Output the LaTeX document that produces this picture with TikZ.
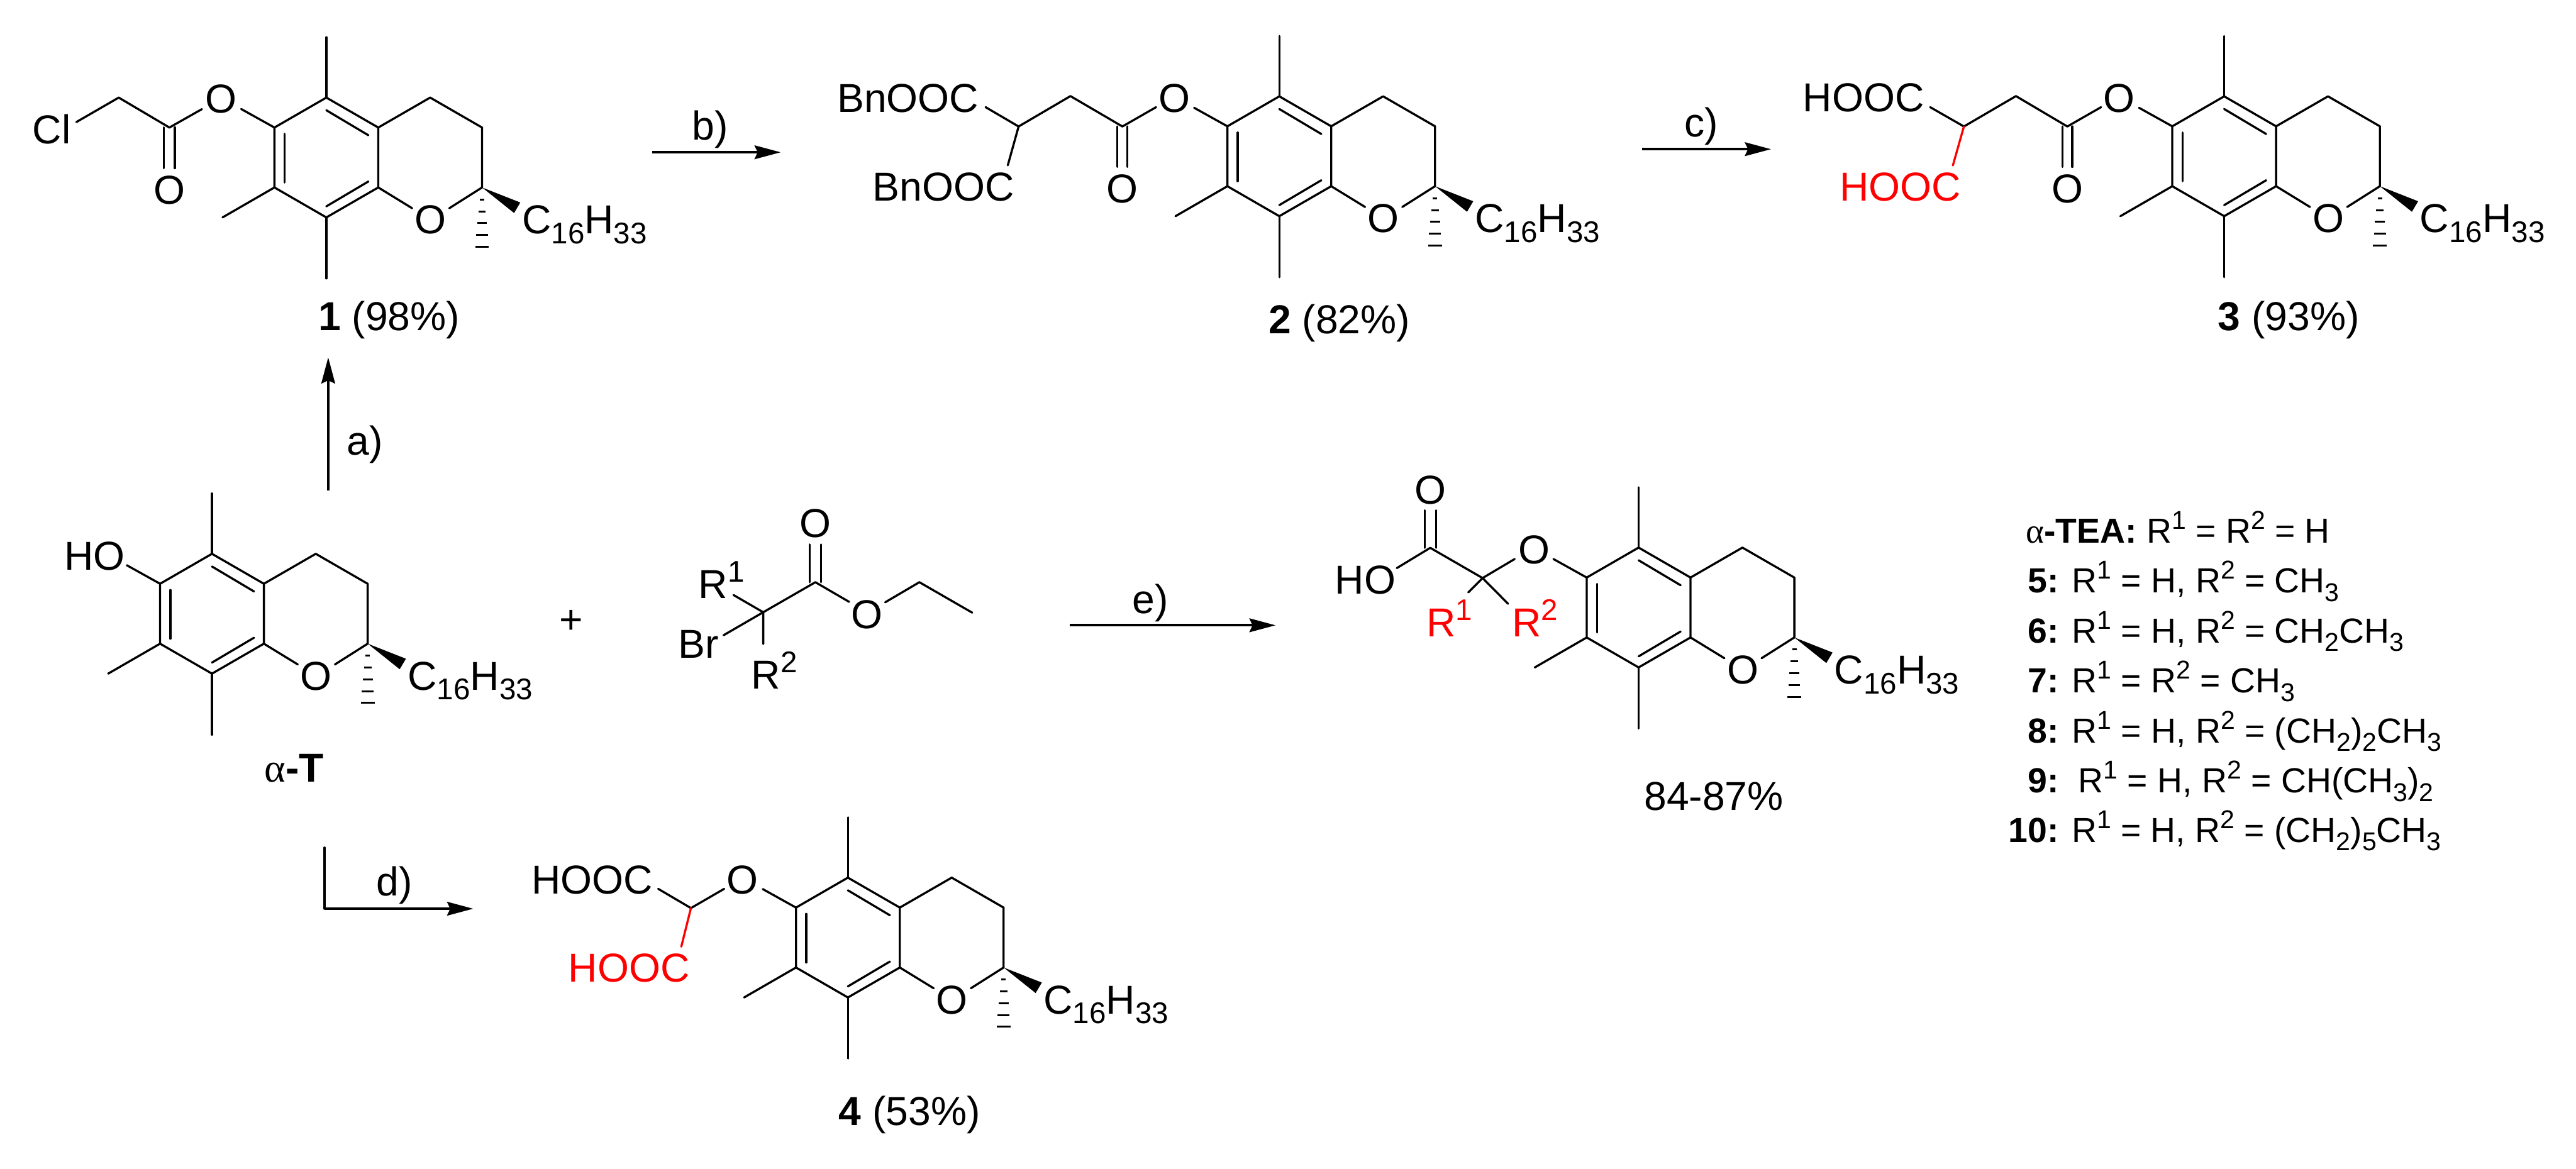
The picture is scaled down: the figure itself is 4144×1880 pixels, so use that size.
\documentclass[tikz,border=0pt]{standalone}
\usepackage{graphicx}
\usepackage{fontspec}
\setmainfont{Liberation Sans}
\newfontfamily\gkfont{Liberation Serif}
\usetikzlibrary{arrows.meta}
\newcommand\mysub[1]{\raisebox{-.245em}{\scalebox{.74}{#1}}}
\newcommand\mysup[1]{\raisebox{.4em}{\scalebox{.74}{#1}}}
\newcommand\lbl[4]{\node[txt] (#1) at (#2,#3) {#4};}
\newcommand\lbc[4]{\node[txtc] (#1) at (#2,#3) {#4};}
\newcommand\leg[4]{\node[legtxt] (#1) at (#2,#3) {#4};}
\newcommand\chrom[3]{%
\begin{scope}[shift={(#2,#3)}]
\coordinate (#1a) at (0,0);
\coordinate (#1b) at (83.5,48.2);
\coordinate (#1c) at (83.5,144.6);
\coordinate (#1d) at (0,192.8);
\coordinate (#1e) at (-83.5,144.6);
\coordinate (#1f) at (-83.5,48.2);
\coordinate (#1g) at (167,0);
\coordinate (#1h) at (250.5,48.2);
\coordinate (#1i) at (250.5,144.6);
\draw[bond] (#1a)--(#1b)--(#1c)--(#1d)--(#1e)--(#1f)--cycle;
\draw[bond] (#1b)--(#1g)--(#1h)--(#1i);
\draw[bond] (#1a)--(0,-97);
\draw[bond] (#1d)--(0,291);
\draw[bond] (#1e)--(-167,192.8);
\draw[bond] (0,20.4)--(67.6,60.6);
\draw[bond] (67.6,135)--(0,175);
\draw[bond] (-67,58.3)--(-67,136.5);
\draw[bond] (#1c)--(138,178);
\draw[bond] (197.8,178)--(#1i);
\draw[bond] (#1f)--(-137,18.4);
\lbc{#1O}{167.7}{219}{O}
\fill (#1i)--(312,168.8)--(302,185.7)--cycle;
\draw[hash] (247,164)--(254,164);
\draw[hash] (244.5,183)--(256.5,183);
\draw[hash] (242.5,202)--(258.5,202);
\draw[hash] (241,221)--(260,221);
\draw[hash] (239.5,240)--(261.5,240);
\lbl{#1R}{315}{219}{C\mysub{16}H\mysub{33}}
\end{scope}}
\tikzset{
  bond/.style={line width=1.7pt,line cap=round,line join=round},
  redbond/.style={bond,draw=red},
  hash/.style={line width=1.5pt},
  rarrow/.style={line width=2pt,-{Stealth[length=21pt,width=11pt,inset=2.5pt]}},
  txt/.style={inner sep=0,outer sep=0,anchor=base west,font=\fontsize{32.5}{36}\selectfont},
  txtc/.style={inner sep=0,outer sep=0,anchor=base,font=\fontsize{32.5}{36}\selectfont},
  legtxt/.style={inner sep=0,outer sep=0,anchor=base west,font=\fontsize{28}{32}\selectfont},
}
\begin{document}
\begin{tikzpicture}[x=0.5pt,y=-0.5pt]
\useasboundingbox (0,0) rectangle (4144,1880);
% compound 1
\chrom{p}{525}{157}
\lbc{pOe}{355.7}{182}{O}
\lbc{pOc}{272.3}{328.4}{O}
\lbl{pCl}{52.6}{231.3}{Cl}
\draw[bond] (122.8,196.4)--(191,157)--(272.5,205.2)--(324.8,175.6);
\draw[bond] (263.8,205)--(263.8,270.6);
\draw[bond] (281.3,205)--(281.3,270.6);
\lbl{pL}{512}{532}{\textbf{1} (98\%)}
% compound 2
\chrom{q}{2058}{155}
\lbc{qOe}{1889}{181}{O}
\lbc{qOc}{1805.6}{326}{O}
\lbl{qA}{1347}{181}{BnOOC}
\lbl{qB}{1404}{323}{BnOOC}
\draw[bond] (1585.5,172.4)--(1638.6,203.5)--(1722,154.6)--(1805.6,203.5)--(1859.8,172.4);
\draw[bond] (1638.6,203.5)--(1621.2,266);
\draw[bond] (1797.6,203.5)--(1797.6,268.5);
\draw[bond] (1813.6,203.5)--(1813.6,268.5);
\lbl{qL}{2040.8}{537}{\textbf{2} (82\%)}
% compound 3
\chrom{r}{3578}{155}
\lbc{rOe}{3409.4}{181}{O}
\lbc{rOc}{3325.7}{326}{O}
\lbl{rA}{2900.3}{180}{HOOC}
\node[txt,text=red] (rB) at (2959.4,323) {HOOC};
\draw[bond] (3105,172.4)--(3159.3,203.5)--(3243,154.6)--(3325.7,203.5)--(3380,172.4);
\draw[redbond] (3159.3,203.5)--(3141.6,266);
\draw[bond] (3317.8,203.5)--(3317.8,268.5);
\draw[bond] (3333.6,203.5)--(3333.6,268.5);
\lbl{rL}{3568}{532}{\textbf{3} (93\%)}
% alpha-T
\chrom{t}{341}{891}
\lbl{tH}{103.8}{916.7}{HO}
\lbl{tL}{425.8}{1258}{{\gkfont α}\textbf{-T}}
\lbc{plus}{919}{1019}{+}
% reagent
\coordinate (c1) at (1227.8,985);
\coordinate (c2) at (1311.7,936.7);
\coordinate (c3) at (1479,936.7);
\draw[bond] (1164,1022)--(c1)--(c2)--(1366,968.3);
\draw[bond] (1180,957.3)--(c1)--(1227.8,1036);
\draw[bond] (1424,969)--(c3)--(1564,985.7);
\draw[bond] (1302.8,936.7)--(1302.8,876);
\draw[bond] (1320.6,936.7)--(1320.6,876);
\lbc{sO}{1311.7}{865}{O}
\lbc{sOe}{1394.7}{1010.7}{O}
\lbl{sR}{1123.7}{962.7}{R\mysup{1}}
\lbl{sBr}{1091.6}{1059}{Br}
\lbl{sS}{1208.6}{1108}{R\mysup{2}}
% compound 4
\chrom{u}{1364}{1412}
\lbc{uOe}{1194.7}{1438}{O}
\lbl{uA}{855}{1438}{HOOC}
\node[txt,text=red] (uB) at (914.4,1580) {HOOC};
\draw[bond] (1058.8,1430)--(1111.5,1461)--(1165,1430);
\draw[redbond] (1111.5,1461)--(1096,1523);
\lbl{uL}{1349.6}{1810}{\textbf{4} (53\%)}
% acid product
\chrom{v}{2636}{881}
\lbc{vOe}{2468}{907.4}{O}
\lbc{vOc}{2300.8}{810.6}{O}
\lbl{vH}{2147.7}{956}{HO}
\draw[bond] (2247,914)--(2300.8,881.4)--(2385,930)--(2436.6,899.4);
\draw[bond] (2292,881.4)--(2292,821);
\draw[bond] (2310,881.4)--(2310,821);
\draw[bond] (2385,930)--(2362,953);
\draw[bond] (2385,930)--(2426,971.4);
\node[txt,text=red] (vR) at (2295,1024) {R\mysup{1}};
\node[txt,text=red] (vS) at (2432.7,1024) {R\mysup{2}};
\lbl{vL}{2645}{1304}{84-87\%}
% arrows
\coordinate (a0) at (528,789); \coordinate (a1) at (528,575);
\draw[rarrow] (a0)--(a1);
\lbl{aL}{558}{731.7}{a)}
\coordinate (b0) at (1048.8,245); \coordinate (b1) at (1255.9,245);
\draw[rarrow] (b0)--(b1);
\lbl{bL}{1113.8}{225}{b)}
\coordinate (c0) at (2641.4,240); \coordinate (cc1) at (2849,240);
\draw[rarrow] (c0)--(cc1);
\lbl{cL}{2710}{219.6}{c)}
\coordinate (d0) at (522,1363.6); \coordinate (d1) at (522,1462); \coordinate (d2) at (761.3,1462);
\draw[rarrow,line join=miter] (d1)--(d2);
\draw[bond] (d0)--(d1);
\lbl{dL}{605.4}{1441}{d)}
\coordinate (e0) at (1721,1006); \coordinate (e1) at (2052,1006);
\draw[rarrow] (e0)--(e1);
\lbl{eL}{1821.5}{986.7}{e)}
% legend
\leg{l0}{3259}{873.5}{{\gkfont α}\textbf{-TEA:} R\mysup{1} = R\mysup{2} = H}
\leg{l1}{3262.6}{953.8}{\textbf{5:} R\mysup{1} = H, R\mysup{2} = CH\mysub{3}}
\leg{l2}{3262.6}{1034.2}{\textbf{6:} R\mysup{1} = H, R\mysup{2} = CH\mysub{2}CH\mysub{3}}
\leg{l3}{3262.6}{1114.6}{\textbf{7:} R\mysup{1} = R\mysup{2} = CH\mysub{3}}
\leg{l4}{3262.6}{1195}{\textbf{8:} R\mysup{1} = H, R\mysup{2} = (CH\mysub{2})\mysub{2}CH\mysub{3}}
\leg{l5}{3262.6}{1275.3}{\textbf{9:}\ \ R\mysup{1} = H, R\mysup{2} = CH(CH\mysub{3})\mysub{2}}
\leg{l6}{3231}{1355}{\textbf{10:} R\mysup{1} = H, R\mysup{2} = (CH\mysub{2})\mysub{5}CH\mysub{3}}
\end{tikzpicture}
\end{document}
